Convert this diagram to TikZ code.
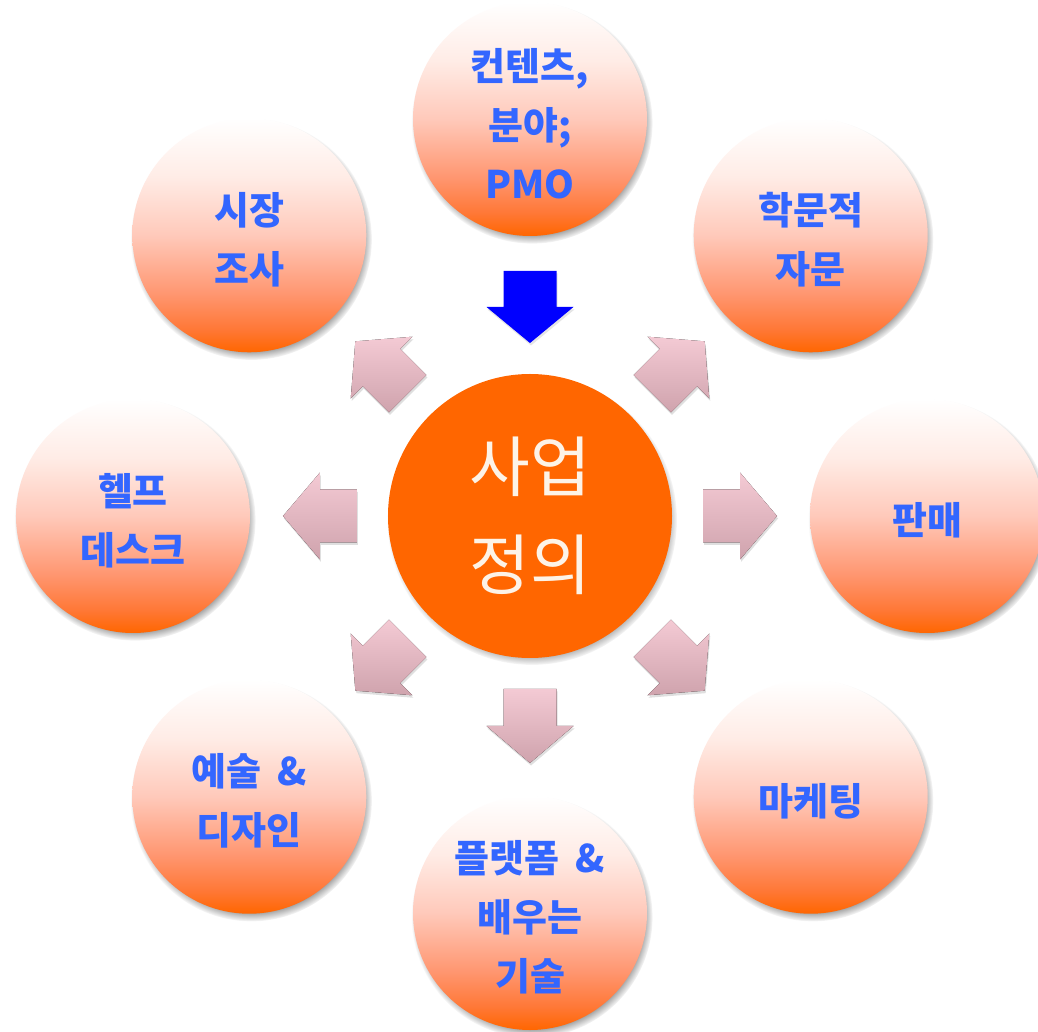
\documentclass[tikz,border=0pt]{standalone}
\usepackage{fontspec}
\newfontfamily\kr{Noto Sans CJK KR}
\usetikzlibrary{calc,shadows,fadings}
\definecolor{txtblue}{RGB}{51,102,255}
\definecolor{orng}{RGB}{255,102,0}
\definecolor{pinkT}{RGB}{244,202,212}
\definecolor{pinkB}{RGB}{207,163,173}
\definecolor{cream}{RGB}{253,243,231}
\definecolor{arrblue}{RGB}{0,0,255}
\definecolor{bsA}{RGB}{255,102,0}
\definecolor{bsB}{RGB}{255,120,55}
\definecolor{bsC}{RGB}{255,150,112}
\definecolor{bsD}{RGB}{255,201,186}
\definecolor{bsE}{RGB}{255,236,230}
\definecolor{bsF}{RGB}{255,255,255}
\pgfdeclareverticalshading{ballshade}{100bp}{color(0bp)=(bsA); color(25bp)=(bsA); color(30bp)=(bsB); color(37.5bp)=(bsC); color(50bp)=(bsD); color(62.5bp)=(bsE); color(75bp)=(bsF); color(100bp)=(bsF)}
\newcommand\gap{\hspace{0.42em}}
\newcommand\upr{\rule{0pt}{41pt}}
\tikzset{
  ball/.style={circle, minimum size=234pt, inner sep=0pt, shading=ballshade,
    align=center, text=txtblue, font=\kr\bfseries\fontsize{38}{59}\selectfont,
    circular drop shadow={shadow scale=1.03, shadow xshift=2pt, shadow yshift=-4pt, fill=black!70}},
  hub/.style={circle, minimum size=284pt, inner sep=0pt, fill=orng,
    align=center, text=cream, font=\kr\fontsize{66}{100}\selectfont,
    circular drop shadow={shadow scale=1.02, shadow xshift=2pt, shadow yshift=-4pt, fill=black!70}},
  pinkarrow/.style={top color=pinkT, bottom color=pinkB,
    drop shadow={opacity=0.25, shadow xshift=1pt, shadow yshift=-2.5pt}},
  bluearrow/.style={fill=arrblue,
    drop shadow={opacity=0.2, shadow xshift=1pt, shadow yshift=-2.5pt}}
}
\begin{document}
\begin{tikzpicture}
\fill[white] (-530pt,-516pt) rectangle (508pt,516pt);
\useasboundingbox (-530pt,-516pt) rectangle (508pt,516pt);
\begin{scope}[x=1pt,y=1pt]
\node[hub] (c) at (0,0) {사업\\[-2pt]정의};
\node[ball] (top)  at (90:397)  {\upr 컨텐츠,\\분야;\\PMO};
\node[ball] (tr)   at (45:397)  {\upr 학문적\\자문};
\node[ball] (rt)   at (0:397)   {\upr 판매};
\node[ball] (br)   at (-45:397) {\upr 마케팅};
\node[ball] (bot)  at (-90:397) {\upr 플랫폼\gap\&\\배우는\\기술};
\node[ball] (bl)   at (-135:397) {\upr 예술\gap\&\\디자인};
\node[ball] (lf)   at (180:397) {\upr 헬프\\데스크};
\node[ball] (tl)   at (135:397) {\upr 시장\\조사};
\foreach \a in {0,45,135,180,225,270,315}{
  \fill[pinkarrow]
    ($(c.center)+(\a:173)+({\a-90}:26.5)$) --
    ($(c.center)+(\a:210)+({\a-90}:26.5)$) --
    ($(c.center)+(\a:210)+({\a-90}:43.5)$) --
    ($(c.center)+(\a:247)$) --
    ($(c.center)+(\a:210)+({\a+90}:43.5)$) --
    ($(c.center)+(\a:210)+({\a+90}:26.5)$) --
    ($(c.center)+(\a:173)+({\a+90}:26.5)$) -- cycle;
}
\fill[bluearrow]
    ($(c.center)+(90:245)+(0:26.5)$) --
    ($(c.center)+(90:209)+(0:26.5)$) --
    ($(c.center)+(90:209)+(0:43.5)$) --
    ($(c.center)+(90:173)$) --
    ($(c.center)+(90:209)+(180:43.5)$) --
    ($(c.center)+(90:209)+(180:26.5)$) --
    ($(c.center)+(90:245)+(180:26.5)$) -- cycle;
\end{scope}
\end{tikzpicture}
\end{document}
